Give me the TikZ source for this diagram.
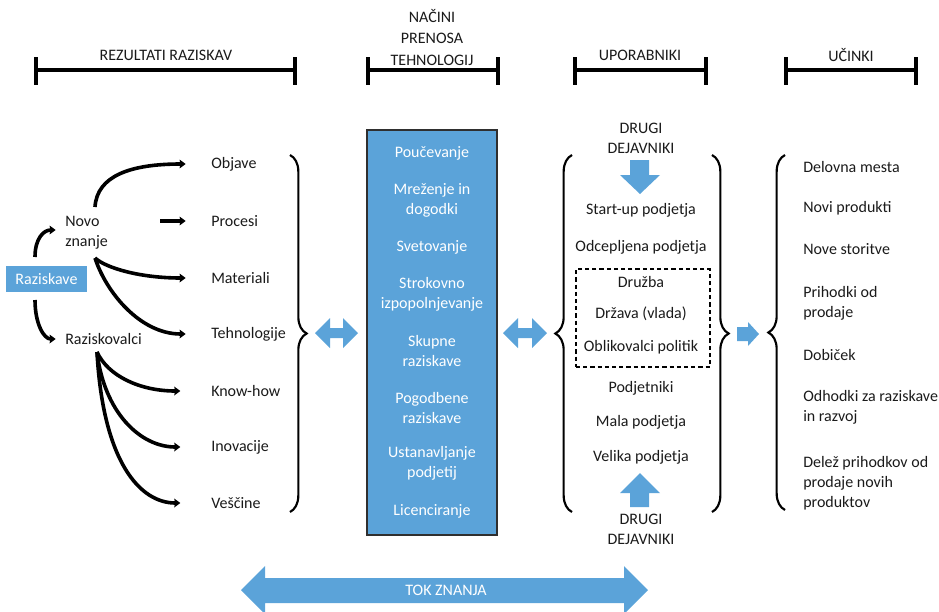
\documentclass[tikz,border=0pt]{standalone}
\usepackage{fontspec}
\setmainfont{Carlito}
\usetikzlibrary{arrows.meta,decorations.pathreplacing}
\definecolor{blu}{HTML}{5BA3D9}
\definecolor{txt}{HTML}{1A1A1A}
\definecolor{edge}{HTML}{2F2F2F}
\begin{document}
\begin{tikzpicture}[x=0.75pt,y=-0.75pt,
  every node/.style={font=\fontsize{12}{15}\selectfont, text=txt, inner sep=0pt},
  lbl/.style={anchor=west, align=left},
  ctr/.style={align=center},
  wht/.style={align=center, text=white},
  bar/.style={line width=2.4pt},
  arr/.style={line width=2.7pt, -{Stealth[length=4.5pt,width=6.5pt,inset=0.5pt]}},
  brc/.style={decorate, decoration={brace, amplitude=12.5pt, aspect=0.5}, line width=1.6pt},
  bluarrow/.style={fill=blu, draw=none},
]
\useasboundingbox (0,0) rectangle (939,611);

% ---------- headers ----------
\node[ctr] (h1) at (166,55) {REZULTATI RAZISKAV};
\node[ctr, font=\fontsize{12}{16}\selectfont] (h2) at (432,37.5) {NAČINI\\PRENOSA\\TEHNOLOGIJ};
\node[ctr] (h3) at (640,55) {UPORABNIKI};
\node[ctr] (h4) at (851,55) {UČINKI};
\foreach \a/\b in {36/295, 368/498, 575/706, 786/916}{
  \draw[bar] (\a,70) -- (\b,70);
  \draw[bar] (\a,57) -- (\a,85);
  \draw[bar] (\b,57) -- (\b,85);
}

% ---------- column 1 ----------
\node[fill=blu, text=white, minimum width=60.75pt, minimum height=19.5pt] (raz) at (46.5,279) {Raziskave};
\node[lbl] (novo) at (65,233) {Novo\\znanje};
\node[lbl] (razk) at (65,339) {Raziskovalci};

\node[lbl] (objave) at (211,164) {Objave};
\node[lbl] (procesi) at (211,221) {Procesi};
\node[lbl] (materiali) at (211,278) {Materiali};
\node[lbl] (tehno) at (211,334) {Tehnologije};
\node[lbl] (know) at (211,391) {Know-how};
\node[lbl] (inov) at (211,447) {Inovacije};
\node[lbl] (vesc) at (211,503) {Veščine};

\coordinate (rzT) at (35,257);
\coordinate (rzB) at (35,300);
\coordinate (nzT) at (95,207);
\coordinate (nzB) at (95,258);
\coordinate (nzR) at (160,221);
\coordinate (rkB) at (97,352);

\draw[arr] (rzT) .. controls (35,238) and (44,230) .. ([xshift=-7]novo.west |- 0,230);
\draw[arr] (rzB) .. controls (35,324) and (44,339) .. ([xshift=-7]razk.west);
\draw[arr] (nzT) .. controls (97,176) and (130,164) .. ([xshift=-19]objave.west);
\draw[arr] (nzR) -- ([xshift=-19]procesi.west);
\draw[arr] (nzB) .. controls (106,268) and (140,278) .. ([xshift=-19]materiali.west);
\draw[arr] (nzB) .. controls (106,292) and (140,334) .. ([xshift=-19]tehno.west);
\draw[arr] (rkB) .. controls (108,376) and (140,391) .. ([xshift=-23]know.west);
\draw[arr] (rkB) .. controls (104,412) and (140,447) .. ([xshift=-23]inov.west);
\draw[arr] (rkB) .. controls (103,462) and (140,503) .. ([xshift=-23]vesc.west);

\draw[brc] (290,155) -- (290,512);

% double arrow 1
\fill[bluarrow] (315,333) -- (330,318) -- (330,328) -- (343,328) -- (343,318) -- (358,333)
  -- (343,348) -- (343,338) -- (330,338) -- (330,348) -- cycle;

% ---------- column 2 ----------
\node[draw=edge, line width=0.9pt, fill=blu, minimum width=97.5pt, minimum height=303.75pt] (nac) at (432,332.5) {};
\node[wht] (t1) at (432,153) {Poučevanje};
\node[wht] (t2) at (432,200.5) {Mreženje in\\dogodki};
\node[wht] (t3) at (432,247) {Svetovanje};
\node[wht] (t4) at (432,294.5) {Strokovno\\izpopolnjevanje};
\node[wht] (t5) at (432,350.5) {Skupne\\raziskave};
\node[wht] (t6) at (432,407.5) {Pogodbene\\raziskave};
\node[wht] (t7) at (432,463.5) {Ustanavljanje\\podjetij};
\node[wht] (t8) at (432,511) {Licenciranje};

% double arrow 2
\fill[bluarrow] (503,333) -- (518,318) -- (518,328) -- (532,328) -- (532,318) -- (547,333)
  -- (532,348) -- (532,338) -- (518,338) -- (518,348) -- cycle;

% ---------- column 3 ----------
\draw[brc] (572,512) -- (572,155);
\draw[brc] (712,155) -- (712,512);
\node[ctr] (dd1) at (641,138) {DRUGI\\DEJAVNIKI};
\fill[bluarrow] (630,160) -- (649,160) -- (649,175) -- (660,175) -- (640,194) -- (620,175) -- (630,175) -- cycle;
\node[ctr] (u1) at (641,210) {Start-up podjetja};
\node[ctr] (u2) at (641,247) {Odcepljena podjetja};
\node[draw=black, line width=1.6pt, dash pattern=on 3.2pt off 2.2pt, minimum width=100.5pt, minimum height=73.5pt] (dbox) at (643,318) {};
\node[ctr] (u3) at (641,282) {Družba};
\node[ctr] (u4) at (641,314) {Država (vlada)};
\node[ctr] (u5) at (641,347) {Oblikovalci politik};
\node[ctr] (u6) at (641,388) {Podjetniki};
\node[ctr] (u7) at (641,422) {Mala podjetja};
\node[ctr] (u8) at (641,457) {Velika podjetja};
\fill[bluarrow] (640,473) -- (660,493) -- (649,493) -- (649,507) -- (630,507) -- (630,493) -- (620,493) -- cycle;
\node[ctr] (dd2) at (641,529.5) {DRUGI\\DEJAVNIKI};

% right arrow
\fill[bluarrow] (737,327) -- (748,327) -- (748,322) -- (759,334) -- (748,346) -- (748,341) -- (737,341) -- cycle;

% ---------- column 4 ----------
\draw[brc] (785,510) -- (785,155);
\node[lbl] (e1) at (803,167) {Delovna mesta};
\node[lbl] (e2) at (803,208) {Novi produkti};
\node[lbl] (e3) at (803,249) {Nove storitve};
\node[lbl] (e4) at (803,303) {Prihodki od\\prodaje};
\node[lbl] (e5) at (803,355) {Dobiček};
\node[lbl] (e6) at (803,407) {Odhodki za raziskave\\in razvoj};
\node[lbl] (e7) at (803,483) {Delež prihodkov od\\prodaje novih\\produktov};

% ---------- TOK ZNANJA ----------
\fill[bluarrow] (241,590) -- (265,566) -- (265,578) -- (624,578) -- (624,566) -- (648,590)
  -- (624,614) -- (624,603) -- (265,603) -- (265,614) -- cycle;
\node[text=white] (tok) at (446,590) {TOK ZNANJA};
\end{tikzpicture}
\end{document}
